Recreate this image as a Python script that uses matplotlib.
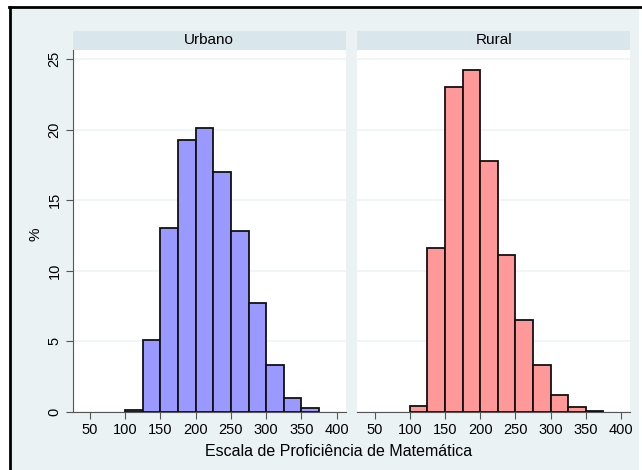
import matplotlib
matplotlib.use("Agg")
import matplotlib.pyplot as plt
from matplotlib.patches import Rectangle
from matplotlib.lines import Line2D

plt.rcParams['font.family'] = ['Liberation Sans', 'DejaVu Sans']

# Data
bin_left = [100, 125, 150, 175, 200, 225, 250, 275, 300, 325, 350]
bin_width = 25
urbano = [0.15, 5.1, 13.0, 19.3, 20.1, 17.0, 12.8, 7.7, 3.3, 1.0, 0.3]
rural = [0.45, 11.6, 23.0, 24.2, 17.8, 11.1, 6.5, 3.3, 1.2, 0.35, 0.1]
panels = ["Urbano", "Rural"]
xticks = [50, 100, 150, 200, 250, 300, 350, 400]
yticks = [0, 5, 10, 15, 20, 25]
xlabel = "Escala de Proficiência de Matemática"
ylabel = "%"

W, H = 642, 470
BG = "#eaf2f3"
STRIP = "#d9e6eb"
GRID = "#eef4f5"
AX = "#555555"

fig = plt.figure(figsize=(W / 100, H / 100), dpi=100)
fig.patch.set_facecolor("white")

# background panel and border
fig.add_artist(Rectangle((10 / W, 0), (639 - 10) / W, (H - 8) / H,
                         transform=fig.transFigure, facecolor=BG, edgecolor="none", zorder=-10))
fig.add_artist(Line2D([9.5 / W, 9.5 / W], [0, 1 - 7 / H], transform=fig.transFigure,
                      color="black", lw=2, zorder=-5))
fig.add_artist(Line2D([9 / W, 1], [1 - 7 / H, 1 - 7 / H], transform=fig.transFigure,
                      color="black", lw=2, zorder=-5))


def px_axes(x0, y0, x1, y1):
    return fig.add_axes([x0 / W, 1 - y1 / H, (x1 - x0) / W, (y1 - y0) / H])


specs = [(72.7, 345.7, urbano, "#9999ff"), (357.3, 630.0, rural, "#ff9999")]
for i, (x0, x1, vals, col) in enumerate(specs):
    ax = px_axes(x0, 50, x1, 412)
    ax.set_facecolor("white")
    ax.bar(bin_left, vals, width=bin_width, align="edge", color=col,
           edgecolor="#111111", linewidth=1.3, zorder=3)
    ax.set_xlim(25.5, 412.7)
    ax.set_ylim(0, 25.64)
    ax.set_yticks(yticks)
    ax.set_xticks(xticks)
    ax.yaxis.grid(True, color=GRID, lw=1.2, zorder=0)
    for s in ["top", "right"]:
        ax.spines[s].set_visible(False)
    ax.spines["bottom"].set_color(AX)
    ax.spines["left"].set_color(AX)
    ax.tick_params(axis="x", length=5, color=AX, labelsize=10.5, pad=3)
    ax.tick_params(axis="y", length=5, color=AX, labelsize=10.5, pad=3)
    if i == 0:
        for lab in ax.get_yticklabels():
            lab.set_rotation(90)
            lab.set_va("center")
    else:
        ax.spines["left"].set_visible(False)
        ax.tick_params(axis="y", left=False, labelleft=False)

    sax = px_axes(x0, 31, x1, 50)
    sax.set_facecolor(STRIP)
    sax.set_xticks([])
    sax.set_yticks([])
    for s in sax.spines.values():
        s.set_visible(False)
    sax.text(0.5, 0.5, panels[i], ha="center", va="center", fontsize=11,
             transform=sax.transAxes)

fig.text(339 / W, 1 - 452 / H, xlabel, ha="center", va="center", fontsize=11.5)
fig.text(35 / W, 1 - 234 / H, ylabel, ha="center", va="center", fontsize=11, rotation=90)

fig.savefig("out.png", dpi=100)
